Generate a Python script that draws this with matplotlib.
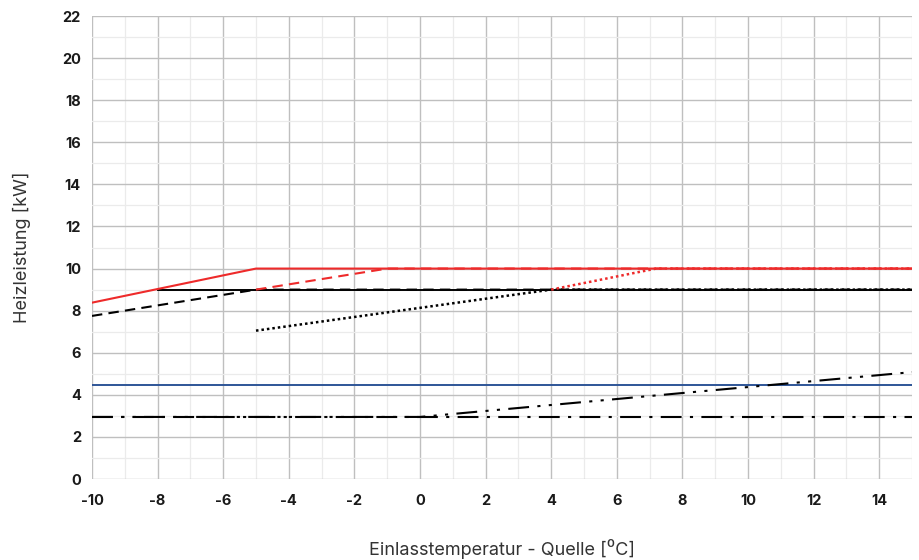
#!/usr/bin/env python3

import matplotlib.pyplot as plt
from matplotlib.ticker import MultipleLocator

# ---------------- DATA ---------------- #

X_TICKS = list(range(-10, 15, 2))
Y_TICKS = list(range(0, 23, 2))

red_solid_x = [-10, -5, 15]
red_solid_y = [8.38, 10, 10]

black_solid_x = [-8, 15]
black_solid_y = [9, 9]

black_dashed_x = [-10, -5, 15]
black_dashed_y = [7.75, 9, 9]

red_dashed_x = [-5, -1, 15]
red_dashed_y = [9, 10, 10]

black_dotted_x = [-5, 4, 15]
black_dotted_y = [7.05, 9, 9]

red_dotted_x = [4, 7.2, 15]
red_dotted_y = [9, 10, 10]

blue_x = [-10, 15]
blue_y = [4.47, 4.47]

dashdot_x = [-10, 15]
dashdot_y = [2.95, 2.95]

dashdotdot_x = [-10, 0, 15]
dashdotdot_y = [2.95, 2.95, 5.08]

RED = "#ee2a2a"
BLUE = "#2e5597"

# ---------------- PLOT ---------------- #

plt.rcParams["font.family"] = ["Inter", "DejaVu Sans"]
plt.rcParams["axes.unicode_minus"] = False

fig = plt.figure(figsize=(9.19, 5.6), dpi=100)
ax = fig.add_axes([0.1001, 0.1446, 0.8923, 0.8268])

ax.plot(black_solid_x, black_solid_y, color="black", linewidth=1.4)
ax.plot(black_dashed_x, black_dashed_y, color="black", linewidth=1.5, linestyle=(0, (5, 3)))
ax.plot(black_dotted_x, black_dotted_y, color="black", linewidth=1.8, linestyle=(0, (1, 1.2)))
ax.plot(red_solid_x, red_solid_y, color=RED, linewidth=1.5)
ax.plot(red_dashed_x, red_dashed_y, color=RED, linewidth=1.5, linestyle=(0, (5, 3)))
ax.plot(red_dotted_x, red_dotted_y, color=RED, linewidth=1.8, linestyle=(0, (1, 1.2)))
ax.plot(blue_x, blue_y, color=BLUE, linewidth=1.4)
ax.plot(dashdot_x, dashdot_y, color="black", linewidth=1.5,
        linestyle=(0, (10, 4, 1.5, 4)))
ax.plot(dashdotdot_x, dashdotdot_y, color="black", linewidth=1.5,
        linestyle=(0, (10, 4, 1.5, 4, 1.5, 4)))

ax.set_xlim(-10, 15)
ax.set_ylim(0, 22)
ax.set_xticks(X_TICKS)
ax.set_yticks(Y_TICKS)
ax.xaxis.set_minor_locator(MultipleLocator(1))
ax.yaxis.set_minor_locator(MultipleLocator(1))

ax.grid(which="major", color="#bfbfbf", linewidth=1.0)
ax.grid(which="minor", color="#ebebeb", linewidth=0.9)
ax.set_axisbelow(True)

for s in ax.spines.values():
    s.set_visible(False)

ax.tick_params(which="both", length=0)
ax.tick_params(axis="x", pad=11)
ax.tick_params(axis="y", pad=8)
for lab in ax.get_xticklabels() + ax.get_yticklabels():
    lab.set_fontweight("bold")
    lab.set_fontsize(10.5)
    lab.set_color("#1a1a1a")

ax.set_xlabel("Einlasstemperatur - Quelle [⁰C]", fontsize=13, color="#333333", labelpad=22)
ax.set_ylabel("Heizleistung [kW]", fontsize=13, color="#333333", labelpad=22)

plt.savefig("out.png", dpi=100)
plt.close()
